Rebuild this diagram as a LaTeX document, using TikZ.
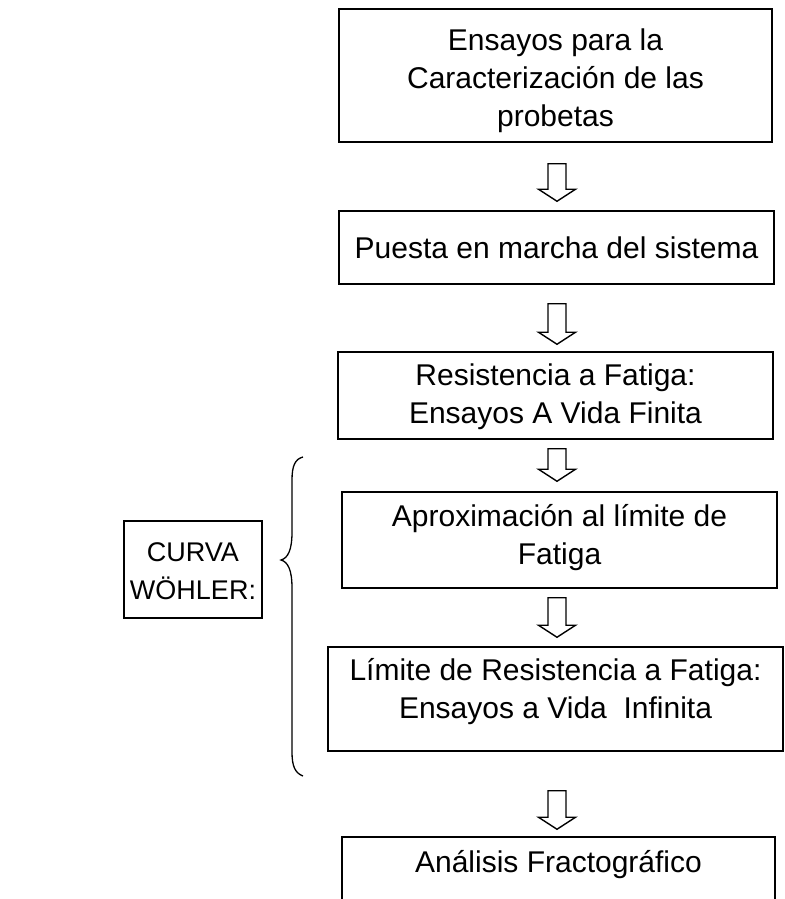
\documentclass[tikz,border=0pt]{standalone}
\usepackage{fontspec}
\setmainfont{Liberation Sans}
\usetikzlibrary{calc}
\newcommand\hollowarrow[2]{%
  \draw[arrowline] ($(#1)+(-9,0)$) -- ($(#2)+(-9,-12)$) -- ($(#2)+(-18.5,-12)$)
    -- (#2) -- ($(#2)+(18.5,-12)$) -- ($(#2)+(9,-12)$) -- ($(#1)+(9,0)$) -- cycle;}
\begin{document}
\begin{tikzpicture}[x=1pt,y=-1pt,
  box/.style={draw,line width=1.5pt,inner sep=0pt},
  txt/.style={align=center,font=\fontsize{30}{38}\selectfont,inner sep=0pt},
  smalltxt/.style={align=center,font=\fontsize{27}{38}\selectfont,inner sep=0pt},
  arrowline/.style={line width=1.4pt,line join=miter},
  bracestyle/.style={line width=1.3pt}]
\useasboundingbox (0,0) rectangle (784,899);
% boxes
\node[box,minimum width=433pt,minimum height=133pt,
  label={[txt,yshift=-5.5pt]center:Ensayos para la\\Caracterización de las\\probetas}] (b1) at (555.5,75.5) {};
\node[box,minimum width=435pt,minimum height=73pt,
  label={[txt,yshift=-0.5pt]center:Puesta en marcha del sistema}] (b2) at (556.5,247.5) {};
\node[box,minimum width=435pt,minimum height=87pt,
  label={[txt,yshift=-1pt]center:Resistencia a Fatiga:\\Ensayos A Vida Finita}] (b3) at (555.5,395.5) {};
\node[box,minimum width=435pt,minimum height=96pt,
  label={[txt,yshift=2.5pt]center:Aproximación al límite de\\Fatiga}] (b4) at (559.5,540) {};
\node[box,minimum width=455pt,minimum height=104pt,
  label={[txt,yshift=7pt]center:Límite de Resistencia a Fatiga:\\Ensayos a Vida\ \ Infinita}] (b5) at (555.5,699) {};
\node[box,minimum width=433pt,minimum height=100pt,
  label={[txt,yshift=22pt]center:Análisis Fractográfico}] (b6) at (558.5,887) {};
\node[box,minimum width=138pt,minimum height=97pt,
  label={[smalltxt,yshift=-1.5pt]center:CURVA\\WÖHLER:}] (cw) at (193,569.5) {};
% arrow axis
\coordinate (ax) at (557,0);
\path (b1.south -| ax) ++(0,21) coordinate (a1s);
\path (b2.north -| ax) ++(0,-9) coordinate (a1e);
\path (b2.south -| ax) ++(0,19) coordinate (a2s);
\path (b3.north -| ax) ++(0,-7) coordinate (a2e);
\path (b3.south -| ax) ++(0,9) coordinate (a3s);
\path (b4.north -| ax) ++(0,-10) coordinate (a3e);
\path (b4.south -| ax) ++(0,9) coordinate (a4s);
\path (b5.north -| ax) ++(0,-9) coordinate (a4e);
\path (b5.south -| ax) ++(0,39) coordinate (a5s);
\path (b6.north -| ax) ++(0,-7) coordinate (a5e);
\hollowarrow{a1s}{a1e}
\hollowarrow{a2s}{a2e}
\hollowarrow{a3s}{a3e}
\hollowarrow{a4s}{a4e}
\hollowarrow{a5s}{a5e}
% brace
\draw[bracestyle] (303,457) .. controls (295,459) and (292,466) .. (292,480)
  -- (292,532) .. controls (292,550) and (288,558) .. (281,560)
  .. controls (288,562) and (292,570) .. (292,588)
  -- (292,752) .. controls (292,766) and (295,773) .. (303,776);
\end{tikzpicture}
\end{document}
